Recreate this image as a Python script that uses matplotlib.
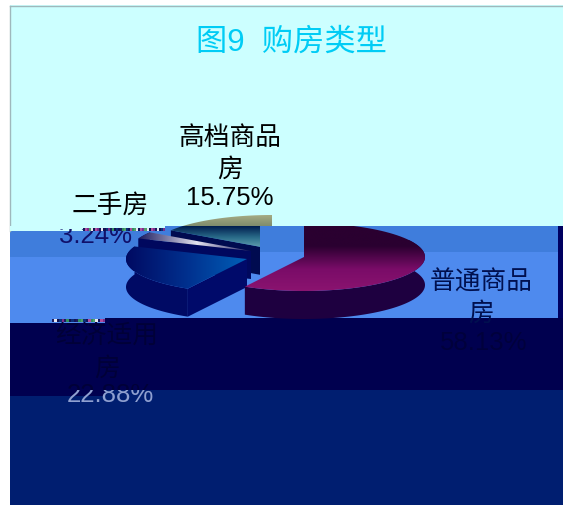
import numpy as np
import matplotlib
matplotlib.use("Agg")
import matplotlib.pyplot as plt
from matplotlib.colors import LinearSegmentedColormap as LSC, to_rgb
from matplotlib.patches import Polygon, Rectangle

title = "图9  购房类型"
categories = ["普通商品房", "经济适用房", "二手房", "高档商品房"]
shares = [58.13, 22.88, 3.24, 15.75]
label_texts = ["普通商品\n房\n58.13%", "经济适用\n房\n22.88%", "二手房\n3.24%", "高档商品\n房\n15.75%"]

FONT = ["Liberation Sans", "Noto Sans CJK SC"]
W, H = 563, 506
fig = plt.figure(figsize=(W / 100, H / 100), dpi=100, facecolor="white")
ax = fig.add_axes([0, 0, 1, 1])
ax.set_axis_off()


def rect(x0, y0, x1, y1, color, z=1):
    ax.add_patch(Rectangle((x0, y0), x1 - x0, y1 - y0, fc=color, ec="none", zorder=z))


# background bands
CY, BL1, BL2, BL3, BL4 = "#CCFFFF", "#3F7DDC", "#4E8AEE", "#00004F", "#001E70"
rect(10, 6, W, 232, CY)
rect(165, 227, W, 232, BL1)
rect(10, 232, W, 258, BL1)
rect(260, 227, W, 253, BL1)
rect(10, 258, W, 324, BL2)
rect(260, 253, W, 319, BL2)
rect(105, 319, W, 324, BL3)
rect(10, 324, W, 397, BL3)
rect(105, 391, W, 397, BL4)
rect(10, 397, W, H, BL4)
rect(558, 227, W, 319, "#000060", 2)
ax.plot([10, 10], [232, 6.5], color="#9FB8BC", lw=1, zorder=3)
ax.plot([10, W], [6.5, 6.5], color="#9FB8BC", lw=1, zorder=3)

# exploded pie
RX, RY, DEPTH = 121, 34, 28
centres = [(304, 258), (247, 260), (251, 252), (272, 250)]
edges = np.cumsum([0] + shares) / sum(shares) * 360


def pt(c, a):
    a = np.radians(a)
    return c[0] + RX * np.sin(a), c[1] - RY * np.cos(a)


def arc(c, a0, a1):
    t = np.linspace(a0, a1, 80)
    return np.column_stack(pt(c, t))


def gradient(patch, colors, box, vertical=True, z=5):
    cmap = LSC.from_list("g", colors)
    g = np.linspace(0, 1, 256)
    g = g[:, None] if vertical else g[None, :]
    im = ax.imshow(g, cmap=cmap, extent=box, aspect="auto", origin="upper", zorder=z, interpolation="bilinear")
    ax.add_patch(patch)
    patch.set_visible(False)
    im.set_clip_path(patch)
    return im


def top_face(i):
    c = centres[i]
    return np.vstack([[c], arc(c, edges[i], edges[i + 1])])


def side(i, a0, a1):
    a = arc(centres[i], a0, a1)
    return np.vstack([a, (a + [0, DEPTH])[::-1]])


def wall(i, a):
    c = np.array(centres[i], float)
    e = np.array(pt(c, a))
    return np.array([c, e, e + [0, DEPTH], c + [0, DEPTH]])


# high-end housing (teal)
hi = 3
ax.add_patch(Polygon(wall(hi, edges[hi]), fc="#000B50", ec="none", zorder=4))
gradient(Polygon(top_face(hi), transform=ax.transData),
         ["#001C4E", "#2A6C8A", "#6AA6B4"], (165, 262, 250, 227), z=4.1)
rect(260, 227, 276, 253, BL1, 4.2)
rect(260, 253, 276, 285, BL2, 4.2)
gradient(Polygon(top_face(hi), transform=ax.transData),
         ["#A9AD86", "#7F8C6C"], (170, 276, 227, 215), z=4.5)
rect(10, 227, 165, 232, CY, 4.3)

# second-hand housing
i = 2
ax.add_patch(Polygon(side(i, edges[i], edges[i + 1]), fc="#00085E", ec="none", zorder=5))
ax.add_patch(Polygon(wall(i, edges[i]), fc="#00085E", ec="none", zorder=5))
gradient(Polygon(top_face(i), transform=ax.transData),
         ["#14145A", "#E4E4F0", "#101058"], (136, 258, 252, 231), vertical=False, z=5.5)

# affordable housing (blue)
i = 1
ax.add_patch(Polygon(side(i, edges[i], edges[i + 1]), fc="#000A64", ec="none", zorder=6))
ax.add_patch(Polygon(wall(i, edges[i]), fc="#000A6A", ec="none", zorder=6))
gradient(Polygon(top_face(i), transform=ax.transData),
         ["#000A62", "#00308E", "#0060B8"], (126, 248, 295, 245), vertical=False, z=6.5)

# ordinary housing (magenta)
i = 0
ax.add_patch(Polygon(side(i, edges[i] + 60, edges[i + 1]), fc="#1E0040", ec="none", zorder=7))
gradient(Polygon(top_face(i), transform=ax.transData),
         ["#2A0030", "#2A0030", "#7A0C68", "#8C1470"], (244, 427, 293, 224), z=7.5)
rect(276, 205, W, 227, CY, 8)

# scan-line speckle rows seen in the reference
speckle = ["#14145A", "#7B2D8B", "#2F8F5F", "#E6E6F0", "#0A2F7A", "#B04C9C", "#1C1C60", "#4FA06A", "#101050"]
row = np.array([to_rgb(speckle[(k * 5 + k // 3) % len(speckle)]) for k in range(40)])[None, :, :]
ax.imshow(row, extent=(83, 165, 232, 229), aspect="auto", interpolation="nearest", zorder=9)
ax.imshow(row[:, 8:30], extent=(52, 105, 323, 320), aspect="auto", interpolation="nearest", zorder=9)

# labels
kw = dict(family=FONT, fontsize=18.5, ha="center", va="center", linespacing=1.0, zorder=8.5)


def lines(x, ys, txts, color):
    return [ax.text(x, y, t, color=color, **kw) for y, t in zip(ys, txts)]


def clipped(x, y, t, color, box):
    tx = ax.text(x, y, t, color=color, clip_on=True, **kw)
    tx.set_clip_path(Rectangle((box[0], box[1]), box[2], box[3], transform=ax.transData))
    return tx


ax.text(291, 43, title, color="#00CCF5", family=FONT, fontsize=22.5, ha="center", va="center", zorder=10)
lines(230, [138, 170, 198], label_texts[3].split("\n"), "#000000")
lines(110, [207], label_texts[2].split("\n")[:1], "#000000")
clipped(95, 236, label_texts[2].split("\n")[1], "#10106A", (10, 230, 400, 30))
lines(481, [283, 314], label_texts[0].split("\n")[:2], "#00104F")
lines(484, [343], label_texts[0].split("\n")[2:], "#00003C")
lines(107, [337, 369], label_texts[1].split("\n")[:2], "#000038")
clipped(110, 395, label_texts[1].split("\n")[2], "#000038", (10, 370, 200, 21))
clipped(110, 395, label_texts[1].split("\n")[2], "#8FA0D0", (10, 391, 200, 20))

ax.set_xlim(0, W)
ax.set_ylim(H, 0)
fig.savefig("out.png", dpi=100, facecolor="white")
